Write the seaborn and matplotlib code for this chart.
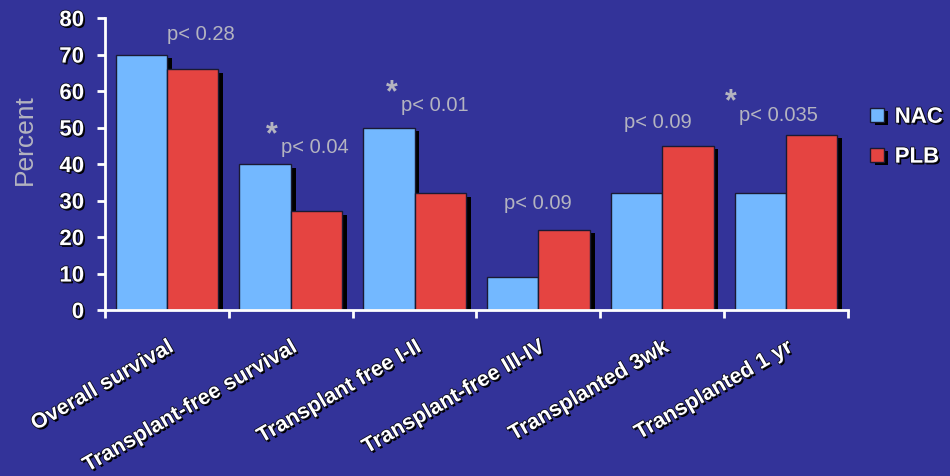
import matplotlib
matplotlib.use("Agg")
import matplotlib.pyplot as plt
import matplotlib.patheffects as pe
from matplotlib.patches import Patch
import pandas as pd
import seaborn as sns

# Outcome categories and percentages for each treatment arm
categories = [
    "Overall survival",
    "Transplant-free survival",
    "Transplant free I-II",
    "Transplant-free III-IV",
    "Transplanted 3wk",
    "Transplanted 1 yr",
]
nac = [70, 40, 50, 9, 32, 32]
plb = [66, 27, 32, 22, 45, 48]
groups = ["NAC", "PLB"]

# Significance annotations
p_labels = ["p< 0.28", "p< 0.04", "p< 0.01", "p< 0.09", "p< 0.09", "p< 0.035"]
significant = [False, True, True, False, False, True]

# Annotation placement (data coordinates)
p_x = [0.0, 0.92, 1.89, 2.72, 3.69, 4.62]
p_y = [75.5, 44.4, 56.0, 29.3, 51.5, 53.4]
star_dx = -0.07
star_dy = 3.5

BG = "#333399"
NAC_COLOR = "#73B8FF"
PLB_COLOR = "#E54441"
GRAY = "#B4B4C0"

df = pd.DataFrame({
    "category": categories * 2,
    "group": [groups[0]] * len(categories) + [groups[1]] * len(categories),
    "value": nac + plb,
})

sns.set_theme(style="white")
plt.rcParams["font.family"] = ["Liberation Sans", "DejaVu Sans"]

fig = plt.figure(figsize=(9.5, 4.76), dpi=100, facecolor=BG)
ax = fig.add_axes([0.1105, 0.3487, 0.7821, 0.6133])
ax.set_facecolor(BG)

sns.barplot(
    data=df, x="category", y="value", hue="group", order=categories,
    hue_order=groups, palette=[NAC_COLOR, PLB_COLOR], saturation=1,
    width=0.83, edgecolor="#1a1a33", linewidth=1.0, ax=ax, legend=False,
)

bar_shadow = [pe.SimplePatchShadow(offset=(3.5, -2.5), shadow_rgbFace="black", alpha=1.0),
              pe.Normal()]
for patch in ax.patches:
    patch.set_path_effects(bar_shadow)

ax.set_xlim(-0.5, len(categories) - 0.5)
ax.set_ylim(0, 80)
ax.set_yticks(range(0, 81, 10))

# Axis styling
for side in ("top", "right"):
    ax.spines[side].set_visible(False)
for side in ("left", "bottom"):
    ax.spines[side].set_color("white")
    ax.spines[side].set_linewidth(2)

text_shadow = [
    pe.SimplePatchShadow(offset=(1.3, -1.3), shadow_rgbFace="black", alpha=1.0),
    pe.withStroke(linewidth=1.2, foreground="#111122"),
]

ax.tick_params(axis="y", which="major", direction="out", length=6, width=2,
               color="white", labelcolor="white", labelsize=16, pad=9, left=True)
for lbl in ax.get_yticklabels():
    lbl.set_fontweight("bold")
    lbl.set_path_effects(text_shadow)

ax.set_xticks(range(len(categories)))
ax.set_xticks([i - 0.5 for i in range(len(categories) + 1)], minor=True)
ax.tick_params(axis="x", which="major", length=0, pad=19)
ax.tick_params(axis="x", which="minor", direction="out", length=6, width=2,
               color="white", bottom=True)
ax.set_xticklabels(categories, rotation=30, ha="right", rotation_mode="anchor",
                   color="white", fontsize=15.5, fontweight="bold")
for lbl in ax.get_xticklabels():
    lbl.set_path_effects(text_shadow)

ax.set_xlabel("")
ax.set_ylabel("")
fig.text(0.026, 0.706, "Percent", rotation=90, ha="center", va="center",
         color=GRAY, fontsize=19)

# p-values and significance stars
for x, y, txt, sig in zip(p_x, p_y, p_labels, significant):
    ax.text(x, y, txt, ha="left", va="center", color=GRAY, fontsize=14.5)
    if sig:
        ax.text(x + star_dx, y + star_dy, "*", ha="center", va="center",
                color=GRAY, fontsize=22, fontweight="bold")

# Legend
handles = [
    Patch(facecolor=NAC_COLOR, edgecolor="#1a1a33", path_effects=bar_shadow),
    Patch(facecolor=PLB_COLOR, edgecolor="#1a1a33", path_effects=bar_shadow),
]
leg = ax.legend(handles, groups, loc="center left", bbox_to_anchor=(1.03, 0.592),
                frameon=False, borderpad=0, borderaxespad=0, handlelength=0.6,
                handleheight=0.6, handletextpad=0.5, labelspacing=0.85,
                prop={"size": 16, "weight": "bold"})
for t in leg.get_texts():
    t.set_color("white")
    t.set_path_effects(text_shadow)

fig.savefig("out.png", dpi=100, facecolor=BG)
